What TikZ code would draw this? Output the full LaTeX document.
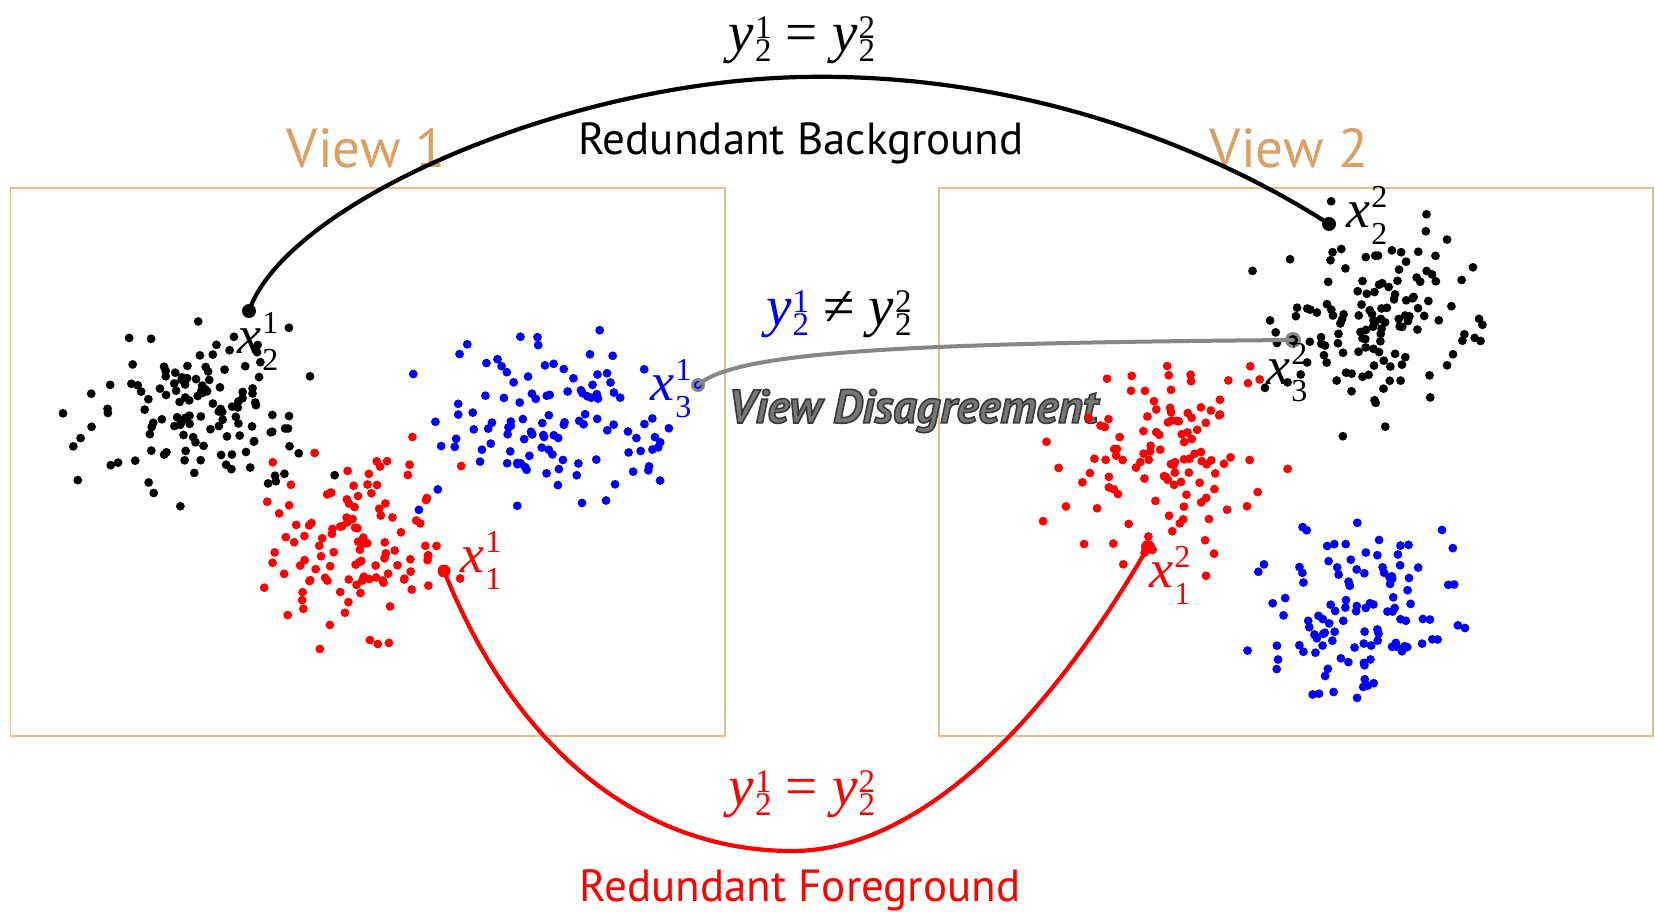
\documentclass[tikz,border=0pt]{standalone}
\usepackage{fontspec}
\setmainfont{PT Sans}
\newfontfamily\tnr{Liberation Serif}
\definecolor{viewtan}{RGB}{220,160,100}
\definecolor{boxtan}{RGB}{232,188,145}
\definecolor{lgray}{RGB}{135,135,135}
\definecolor{vdfill}{RGB}{118,118,118}
\newcommand\fs[1]{\fontsize{#1}{#1}\selectfont}
\newcommand\mv[6]{{\tnr\itshape #1}{\tnr\fs{#6}\kern1pt\rlap{\raisebox{#4}{#2}}\raisebox{-#5}{#3}}}
\newcommand\ylab[2]{\mv{y}{#1}{#2}{13pt}{10pt}{33}}
\newcommand\xlab[2]{\mv{x}{#1}{#2}{20pt}{17pt}{32}}
\newcommand\outlined[1]{\special{pdf:literal direct 0.22 0.22 0.22 RG 2 Tr 1.6 w}#1\special{pdf:literal direct 0 Tr}}
\newcommand\cluster[6]{\foreach \i in {1,...,#5}{\pgfmathsetmacro\px{#1+#3*(rand+rand+rand)}\pgfmathsetmacro\py{#2+#4*(rand+rand+rand)}\fill[#6] (\px,\py) circle[radius=4.4];}}
\tikzset{
  viewbox/.style={draw=boxtan, line width=1.6},
  viewlabel/.style={text=viewtan, font=\fs{55}, inner sep=0},
  captxt/.style={font=\fs{45}, inner sep=0},
  mathlbl/.style={font=\fs{57}, inner sep=0},
  xlbl/.style={font=\fs{54}, inner sep=0},
  enddot/.style={circle, inner sep=0, minimum size=#1},
  enddot/.default=13,
  link/.style={line width=4.2, line cap=round},
}
\begin{document}
\begin{tikzpicture}[x=1pt,y=-1pt]
\useasboundingbox (0,0) rectangle (1655,912);
\fill[white] (0,0) rectangle (1655,912);
\pgfmathsetseed{11}
% boxes
\draw[viewbox] (10.6,188) rectangle (725,736);
\draw[viewbox] (939,188) rectangle (1653,736);
% view labels
\node[viewlabel] (v1) at (366,148) {View 1};
\node[viewlabel] (v2) at (1289,148) {View 2};
% View Disagreement (outlined)
\node[font=\fs{47}\bfseries\itshape, text=vdfill, inner sep=0] (vd) at (913,411) {\outlined{View Disagreement}};
% clusters view 1
\cluster{195}{417}{52}{38}{130}{black}
\cluster{354}{549}{46}{46}{115}{red}
\cluster{546}{422}{58}{40}{115}{blue}
% clusters view 2
\cluster{1367}{322}{52}{46}{130}{black}
\cluster{1161}{462}{47}{46}{115}{red}
\cluster{1362}{612}{48}{44}{115}{blue}
% endpoints
\node[enddot=14, fill=black] (x21) at (249,311) {};
\node[enddot=14, fill=black] (x22) at (1329,224) {};
\node[enddot=13, fill=red] (x11) at (444,571) {};
\node[enddot=14, fill=red] (x12) at (1148,547) {};
\node[enddot=16, fill=lgray] (x32) at (1293,340) {};
\node[enddot=10, fill=black] at (x32) {};
\node[enddot=14, fill=lgray] (x31) at (698,385) {};
\node[enddot=8, fill=blue] at (x31) {};
% connectors
\draw[link, black] (x21.center) .. controls (285,205) and (560,82) .. (802,77)
      .. controls (1040,72) and (1230,160) .. (x22.center);
\draw[link, red] (x11.center) .. controls (520,760) and (650,851) .. (792,851)
      .. controls (930,851) and (1060,700) .. (x12.center);
\draw[link, lgray, line width=4] (x31.center) .. controls (735,352) and (900,343) .. (x32.center);
% texts
\node[captxt] (rb) at (801,143) {Redundant Background};
\node[captxt, text=red] (rf) at (800,890) {Redundant Foreground};
\node[mathlbl] (eqtop) at (802,40) {\ylab{1}{2}\hspace{0.25em}{\tnr =}\hspace{0.25em}\ylab{2}{2}};
\node[mathlbl, text=red] (eqbot) at (802,794) {\ylab{1}{2}\hspace{0.25em}{\tnr =}\hspace{0.25em}\ylab{2}{2}};
\node[mathlbl] (neq) at (839,314) {{\color{blue}\ylab{1}{2}}\hspace{0.25em}{\tnr ≠}\hspace{0.25em}\ylab{2}{2}};
\node[xlbl] (l21) at (258,341) {\xlab{1}{2}};
\node[xlbl] (l22) at (1367,215) {\xlab{2}{2}};
\node[xlbl, text=blue] (l31) at (671,389) {\xlab{1}{3}};
\node[xlbl] (l32) at (1287,373) {\xlab{2}{3}};
\node[xlbl, text=red] (l11) at (481,560) {\xlab{1}{1}};
\node[xlbl, text=red] (l12) at (1170,575) {\xlab{2}{1}};
\end{tikzpicture}
\end{document}
